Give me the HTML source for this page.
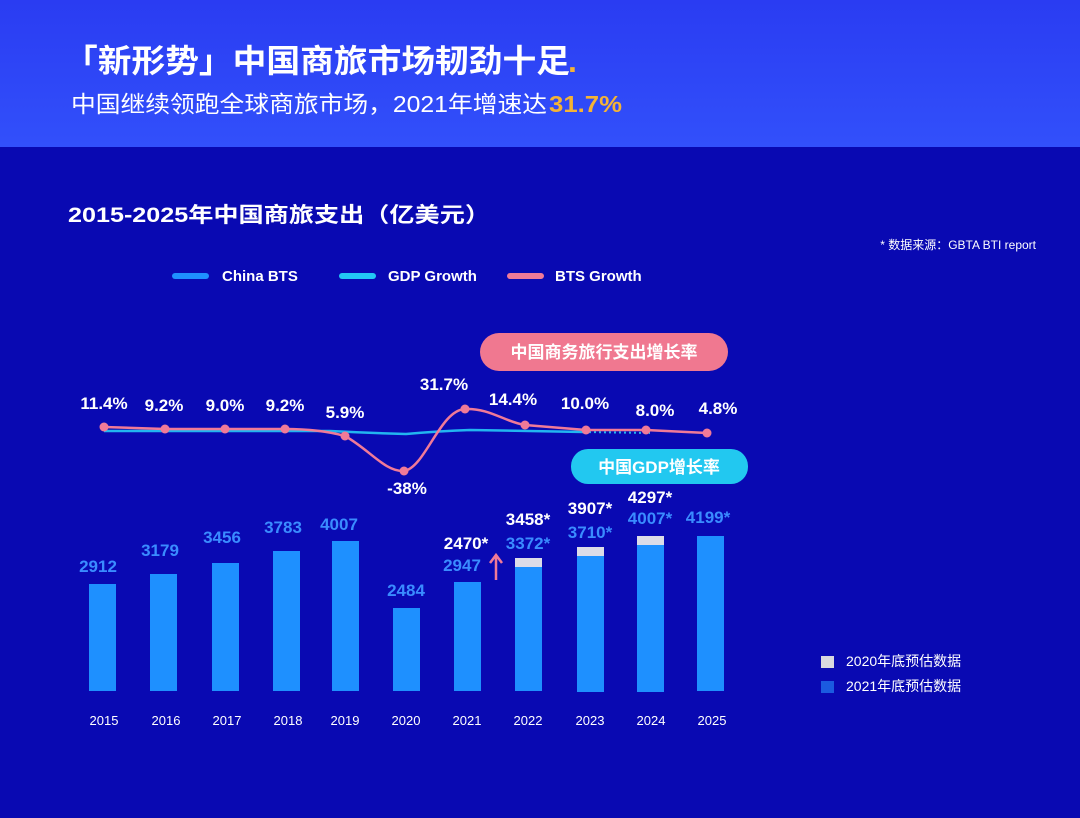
<!DOCTYPE html>
<html><head><meta charset="utf-8"><style>
body{margin:0;width:1080px;height:818px;overflow:hidden;background:#0909b2;font-family:"Liberation Sans","Noto Sans CJK SC",sans-serif}
</style></head><body>
<svg width="1080" height="818" xmlns="http://www.w3.org/2000/svg" style="display:block;font-family:'Liberation Sans','Noto Sans CJK SC',sans-serif">
<defs>
<linearGradient id="top" x1="0" y1="0" x2="0" y2="1"><stop offset="0" stop-color="#2a3cf2"/><stop offset="1" stop-color="#3250fb"/></linearGradient>
</defs>
<rect width="1080" height="818" fill="#0909b2"/>
<rect width="1080" height="147" fill="url(#top)"/>
<text x="64" y="72" font-size="32" font-weight="bold" fill="#fff" textLength="506" lengthAdjust="spacingAndGlyphs">「新形势」中国商旅市场韧劲十足</text>
<text x="568" y="72" font-size="32" font-weight="bold" fill="#f5b335">.</text>
<text x="71" y="112" font-size="23" fill="#fff" textLength="476" lengthAdjust="spacingAndGlyphs">中国继续领跑全球商旅市场，2021年增速达</text>
<text x="549" y="112" font-size="23" fill="#f5b335" font-weight="bold" textLength="73" lengthAdjust="spacingAndGlyphs">31.7%</text>
<text x="68" y="222" font-size="21" font-weight="bold" fill="#fff" textLength="422" lengthAdjust="spacingAndGlyphs">2015-2025年中国商旅支出（亿美元）</text>
<text x="1036" y="249" font-size="12" fill="#fff" text-anchor="end">* 数据来源：GBTA BTI report</text>
<g font-size="15" fill="#fff" font-weight="bold">
<rect x="172" y="273" width="37" height="6" rx="3" fill="#1e90ff"/><text x="222" y="281">China BTS</text>
<rect x="339" y="273" width="37" height="6" rx="3" fill="#22c8f5"/><text x="388" y="281">GDP Growth</text>
<rect x="507" y="273" width="37" height="6" rx="3" fill="#f07a98"/><text x="555" y="281">BTS Growth</text>
</g>
<rect x="480" y="333" width="248" height="38" rx="19" fill="#f07890"/>
<text x="604" y="358" font-size="17" font-weight="bold" fill="#fff" text-anchor="middle">中国商务旅行支出增长率</text>
<rect x="571" y="449" width="177" height="35" rx="17" fill="#22c8f0"/>
<text x="659" y="473" font-size="17" font-weight="bold" fill="#fff" text-anchor="middle">中国GDP增长率</text>
<g fill="#1e90ff">
<rect x="89" y="584" width="27" height="107"/>
<rect x="150" y="574" width="27" height="117"/>
<rect x="212" y="563" width="27" height="128"/>
<rect x="273" y="551" width="27" height="140"/>
<rect x="332" y="541" width="27" height="150"/>
<rect x="393" y="608" width="27" height="83"/>
<rect x="454" y="582" width="27" height="109"/>
<rect x="515" y="567" width="27" height="124"/>
<rect x="577" y="556" width="27" height="136"/>
<rect x="637" y="545" width="27" height="147"/>
<rect x="697" y="536" width="27" height="155"/>
</g>
<g fill="#dcdce8">
<rect x="515" y="558" width="27" height="9"/>
<rect x="577" y="547" width="27" height="9"/>
<rect x="637" y="536" width="27" height="9"/>
</g>
<path d="M496 580 L496 556 M490 563 L496 555 L502 563" stroke="#f07a98" stroke-width="2.5" fill="none"/>
<path d="M104 431 L330 431 Q370 433 406 434 Q440 431 470 430 L584 432" stroke="#22b5f0" stroke-width="2.5" fill="none"/>
<path d="M584 432 L650 433" stroke="#22b5f0" stroke-width="2" stroke-dasharray="2 3" fill="none"/>
<path d="M104 427 L165 429 L225 429 L285 429 Q320 429 345 436 C370 450 385 472 404 471 C425 468 440 410 465 409 C490 408 505 422 525 425 L586 430 L646 430 L707 433" stroke="#f07a98" stroke-width="2.5" fill="none"/>
<g fill="#f07a98">
<circle cx="104" cy="427" r="4.5"/><circle cx="165" cy="429" r="4.5"/><circle cx="225" cy="429" r="4.5"/><circle cx="285" cy="429" r="4.5"/><circle cx="345" cy="436" r="4.5"/><circle cx="404" cy="471" r="4.5"/><circle cx="465" cy="409" r="4.5"/><circle cx="525" cy="425" r="4.5"/><circle cx="586" cy="430" r="4.5"/><circle cx="646" cy="430" r="4.5"/><circle cx="707" cy="433" r="4.5"/>
</g>
<g font-size="17" font-weight="bold" fill="#fff" text-anchor="middle">
<text x="104" y="409">11.4%</text><text x="164" y="411">9.2%</text><text x="225" y="411">9.0%</text><text x="285" y="411">9.2%</text><text x="345" y="418">5.9%</text><text x="407" y="494">-38%</text><text x="444" y="390">31.7%</text><text x="513" y="405">14.4%</text><text x="585" y="409">10.0%</text><text x="655" y="416">8.0%</text><text x="718" y="414">4.8%</text>
</g>
<g font-size="17" font-weight="bold" text-anchor="middle" fill="#3a8cff">
<text x="98" y="572">2912</text><text x="160" y="556">3179</text><text x="222" y="543">3456</text><text x="283" y="533">3783</text><text x="339" y="530">4007</text><text x="406" y="596">2484</text><text x="462" y="571">2947</text>
<text x="528" y="549">3372*</text><text x="590" y="538">3710*</text><text x="650" y="524">4007*</text><text x="708" y="523">4199*</text>
</g>
<g font-size="17" font-weight="bold" text-anchor="middle" fill="#fff">
<text x="466" y="549">2470*</text><text x="528" y="525">3458*</text><text x="590" y="514">3907*</text><text x="650" y="503">4297*</text>
</g>
<g font-size="13" fill="#fff" text-anchor="middle">
<text x="104" y="725">2015</text><text x="166" y="725">2016</text><text x="227" y="725">2017</text><text x="288" y="725">2018</text><text x="345" y="725">2019</text><text x="406" y="725">2020</text><text x="467" y="725">2021</text><text x="528" y="725">2022</text><text x="590" y="725">2023</text><text x="651" y="725">2024</text><text x="712" y="725">2025</text>
</g>
<rect x="821" y="656" width="13" height="12" fill="#d8d8e0"/>
<rect x="821" y="681" width="13" height="12" fill="#1b5ae0"/>
<text x="846" y="666" font-size="14" fill="#fff">2020年底预估数据</text>
<text x="846" y="691" font-size="14" fill="#fff">2021年底预估数据</text>
</svg>
</body></html>
